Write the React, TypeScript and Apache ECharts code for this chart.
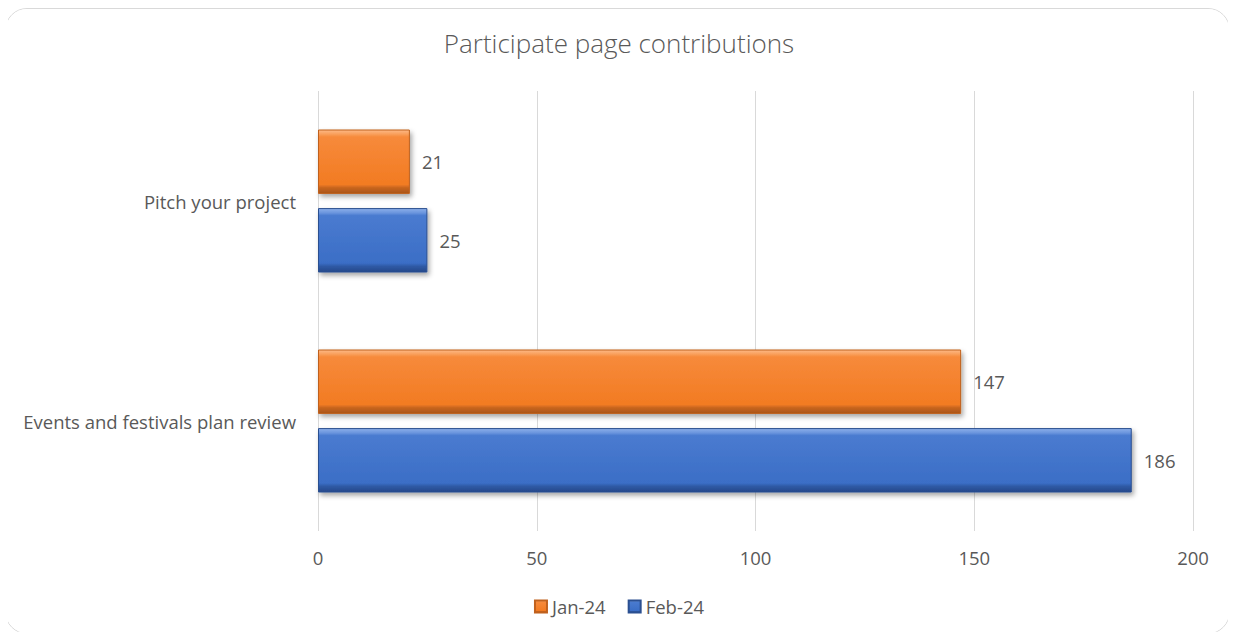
import React, { useEffect, useRef } from "react";
import * as echarts from "echarts";

const categories = ["Events and festivals plan review", "Pitch your project"];
const seriesNames = ["Jan-24", "Feb-24"];
const jan24 = [147, 21];
const feb24 = [186, 25];
const xTicks = [0, 50, 100, 150, 200];

const FONT = "'Open Sans', 'Segoe UI', sans-serif";
const TEXT = "#595959";

function bevel(c: string[]) {
  return new echarts.graphic.LinearGradient(0, 0, 0, 1, [
    { offset: 0, color: c[0] },
    { offset: 0.07, color: c[1] },
    { offset: 0.11, color: c[2] },
    { offset: 0.86, color: c[3] },
    { offset: 0.91, color: c[4] },
    { offset: 1, color: c[5] },
  ]);
}

const orange = ["#fdb987", "#f99d58", "#f78a3b", "#f27b22", "#c8651f", "#a85419"];
const blue = ["#8db0ea", "#6994dd", "#4a7bd0", "#3b6ec6", "#2f5aa5", "#26488a"];

export default function App() {
  const ref = useRef<HTMLDivElement>(null);
  useEffect(() => {
    if (!ref.current) return;
    const chart = echarts.init(ref.current, undefined, { renderer: "svg" });
    const barStyle = (c: string[], border: string) => ({
      color: bevel(c),
      borderColor: border,
      borderWidth: 1,
      shadowColor: "rgba(0,0,0,0.35)",
      shadowBlur: 5,
      shadowOffsetX: 2,
      shadowOffsetY: 3,
    });
    const labelStyle = {
      show: true,
      position: "right",
      distance: 12,
      fontFamily: FONT,
      fontSize: 18.5,
      color: TEXT,
    };
    chart.setOption({
      animation: false,
      backgroundColor: "#ffffff",
      title: {
        text: "Participate page contributions",
        left: "center",
        top: 24,
        textStyle: { fontFamily: FONT, fontSize: 26, fontWeight: 300, color: TEXT },
      },
      legend: {
        data: seriesNames,
        bottom: 20,
        left: "center",
        icon: "rect",
        itemWidth: 12,
        itemHeight: 12,
        itemGap: 22,
        textStyle: { fontFamily: FONT, fontSize: 18.5, color: TEXT },
      },
      grid: { left: 317, right: 44, top: 90, bottom: 110, containLabel: false },
      xAxis: {
        type: "value",
        min: 0,
        max: 200,
        interval: 50,
        axisLine: { show: false },
        axisTick: { show: false },
        splitLine: { show: true, lineStyle: { color: "#d9d9d9", width: 1 } },
        axisLabel: {
          fontFamily: FONT,
          fontSize: 18.5,
          color: TEXT,
          margin: 17,
          formatter: (v: number) => (xTicks.includes(v) ? String(v) : ""),
        },
      },
      yAxis: {
        type: "category",
        data: categories,
        axisLine: { show: false },
        axisTick: { show: false },
        axisLabel: { fontFamily: FONT, fontSize: 18.5, color: TEXT, margin: 22 },
      },
      series: [
        {
          name: seriesNames[0],
          type: "bar",
          data: jan24,
          barGap: "22%",
          barCategoryGap: "35%",
          itemStyle: barStyle(orange, "#c0611d"),
          label: labelStyle,
        },
        {
          name: seriesNames[1],
          type: "bar",
          data: feb24,
          itemStyle: barStyle(blue, "#2b4f90"),
          label: labelStyle,
        },
      ],
    });
    return () => chart.dispose();
  }, []);
  return (
    <div
      style={{
        width: 1236,
        height: 640,
        margin: -8,
        position: "relative",
        background: "#fff",
      }}
    >
      <div
        style={{
          position: "absolute",
          left: 5,
          top: 8,
          width: 1225,
          height: 626,
          border: "1.5px solid #d9d9d9",
          borderRadius: 22,
          boxSizing: "border-box",
          overflow: "hidden",
        }}
      >
        <div ref={ref} style={{ position: "absolute", left: -5, top: -8, width: 1236, height: 640 }} />
      </div>
    </div>
  );
}
